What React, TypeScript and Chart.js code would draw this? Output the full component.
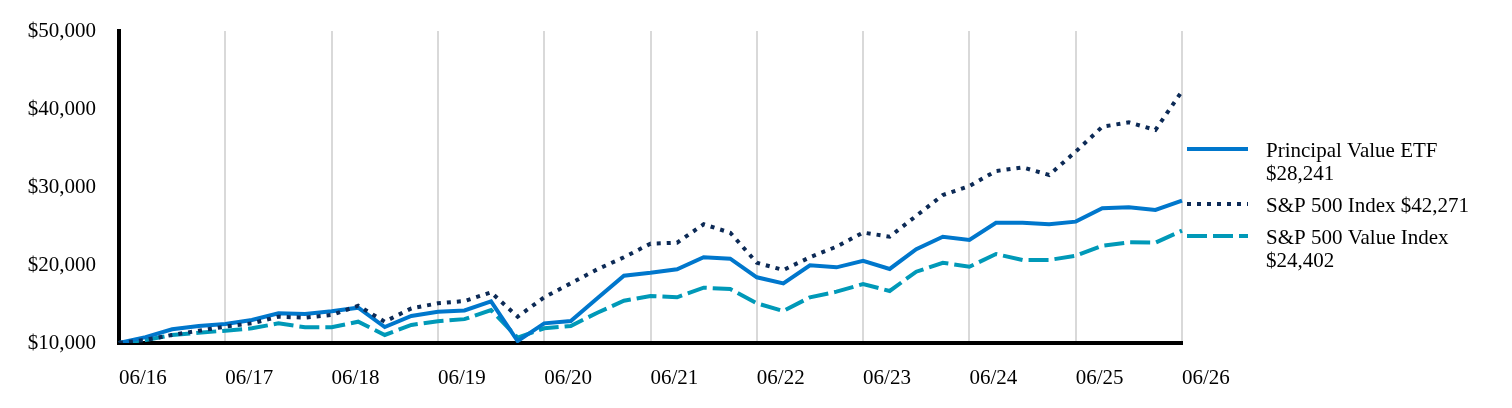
import { useEffect, useRef } from "react"
import { Chart, registerables } from "chart.js"

Chart.register(...registerables)

// quarterly points, 06/16 .. 06/26
const quarters = [
  "06/16", "09/16", "12/16", "03/17", "06/17", "09/17", "12/17", "03/18",
  "06/18", "09/18", "12/18", "03/19", "06/19", "09/19", "12/19", "03/20",
  "06/20", "09/20", "12/20", "03/21", "06/21", "09/21", "12/21", "03/22",
  "06/22", "09/22", "12/22", "03/23", "06/23", "09/23", "12/23", "03/24",
  "06/24", "09/24", "12/24", "03/25", "06/25", "09/25", "12/25", "03/26",
  "06/26",
]

const principalValue = [
  10000, 10750, 11760, 12180, 12440, 12950, 13800, 13720,
  14060, 14530, 12050, 13460, 14000, 14180, 15340, 10250,
  12520, 12820, 15730, 18630, 19000, 19450, 20990, 20810,
  18420, 17650, 19960, 19700, 20530, 19490, 22030, 23630,
  23200, 25420, 25420, 25220, 25560, 27270, 27400, 27050,
  28241,
]

const sp500 = [
  10000, 10400, 11030, 11580, 12100, 12520, 13370, 13250,
  13590, 14780, 12730, 14440, 15090, 15380, 16500, 13370,
  15860, 17650, 19450, 20990, 22740, 22860, 25220, 24140,
  20290, 19360, 20990, 22350, 24160, 23630, 26300, 28970,
  30130, 32050, 32520, 31540, 34530, 37730, 38290, 37310,
  42271,
]

const sp500Value = [
  10000, 10380, 11030, 11320, 11580, 11880, 12520, 12010,
  12010, 12730, 11030, 12310, 12800, 13060, 14230, 10700,
  11880, 12180, 13880, 15420, 16030, 15860, 17090, 16920,
  15090, 14100, 15860, 16580, 17560, 16670, 19140, 20290,
  19780, 21410, 20640, 20640, 21190, 22470, 22910, 22860,
  24402,
]

const yTicks = [10000, 20000, 30000, 40000, 50000]

const legendItems = [
  { lines: ["Principal Value ETF", "$28,241"], color: "#0077cc", dash: [] as number[] },
  { lines: ["S&P 500 Index $42,271"], color: "#0c2a56", dash: [4, 6] },
  { lines: ["S&P 500 Value Index", "$24,402"], color: "#0099b8", dash: [20, 6] },
]

const FONT = '"Liberation Serif", "Times New Roman", serif'

const sideLegend = {
  id: "sideLegend",
  afterDraw(chart: Chart) {
    const { ctx, chartArea } = chart
    const x0 = chartArea.right + 5
    const tx = chartArea.right + 84
    const lineH = 23
    let y = 141
    ctx.save()
    ctx.font = `21px ${FONT}`
    ctx.textBaseline = "middle"
    ctx.textAlign = "left"
    legendItems.forEach((item) => {
      ctx.strokeStyle = item.color
      ctx.lineWidth = 4
      ctx.lineCap = "butt"
      ctx.setLineDash(item.dash)
      ctx.beginPath()
      ctx.moveTo(x0, y)
      ctx.lineTo(x0 + 61, y)
      ctx.stroke()
      ctx.fillStyle = "#000"
      item.lines.forEach((t, i) => ctx.fillText(t, tx, y + 2 + i * lineH))
      y += (item.lines.length - 1) * lineH + 32
    })
    ctx.restore()
  },
}

export default function App() {
  const chartRef = useRef<HTMLCanvasElement | null>(null)
  const chartInstance = useRef<Chart | null>(null)

  useEffect(() => {
    if (!chartRef.current) return
    if (chartInstance.current) chartInstance.current.destroy()

    chartInstance.current = new Chart(chartRef.current, {
      type: "line",
      data: {
        labels: quarters,
        datasets: [
          {
            label: "Principal Value ETF",
            data: principalValue,
            borderColor: "#0077cc",
            borderWidth: 4,
            order: 1,
          },
          {
            label: "S&P 500 Index",
            data: sp500,
            borderColor: "#0c2a56",
            borderWidth: 4,
            borderDash: [4, 6],
            order: 0,
          },
          {
            label: "S&P 500 Value Index",
            data: sp500Value,
            borderColor: "#0099b8",
            borderWidth: 4,
            borderDash: [20, 6],
            order: 2,
          },
        ],
      },
      options: {
        animation: false,
        responsive: true,
        maintainAspectRatio: false,
        layout: { padding: { top: 23, right: 322, bottom: 0, left: 0 } },
        elements: {
          point: { radius: 0, hoverRadius: 0 },
          line: { tension: 0, fill: false },
        },
        plugins: {
          legend: { display: false },
          tooltip: { enabled: false },
        },
        scales: {
          x: {
            type: "category",
            offset: false,
            afterFit: (scale: any) => {
              scale.height = 57
            },
            grid: {
              drawTicks: false,
              lineWidth: 2,
              color: (c: any) => (c.index % 4 === 0 ? "#d9d9d9" : "rgba(0,0,0,0)"),
            },
            border: { display: true, color: "#000", width: 4 },
            ticks: {
              autoSkip: false,
              maxRotation: 0,
              align: "start",
              padding: 23,
              color: "#000",
              font: { family: FONT, size: 21 },
              callback: (_v: any, i: number) => (i % 4 === 0 ? quarters[i] : ""),
            },
          },
          y: {
            min: yTicks[0],
            max: yTicks[yTicks.length - 1],
            afterFit: (scale: any) => {
              scale.width = 111
              scale.paddingTop = 0
              scale.paddingBottom = 0
            },
            afterBuildTicks: (scale: any) => {
              scale.ticks = yTicks.map((v) => ({ value: v }))
            },
            grid: { display: false, drawTicks: false },
            border: { display: true, color: "#000", width: 4 },
            ticks: {
              padding: 23,
              color: "#000",
              font: { family: FONT, size: 21 },
              callback: (v: any) => "$" + Number(v).toLocaleString("en-US"),
            },
          },
        },
      },
      plugins: [sideLegend],
    })

    return () => {
      if (chartInstance.current) {
        chartInstance.current.destroy()
        chartInstance.current = null
      }
    }
  }, [])

  return (
    <div style={{ position: "relative", width: 1496, height: 392 }}>
      <canvas ref={chartRef}></canvas>
    </div>
  )
}
